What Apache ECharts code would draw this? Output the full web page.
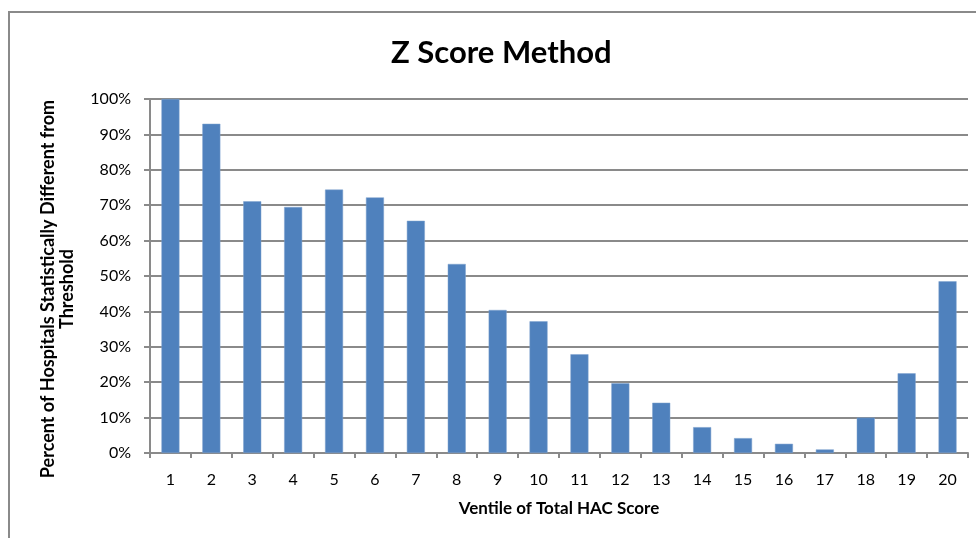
<!DOCTYPE html>
<html>
<head>
<meta charset="utf-8">
<script src="https://cdn.jsdelivr.net/npm/echarts@6/dist/echarts.min.js"></script>
<style>
  html, body { margin: 0; padding: 0; background: #fff; }
  #chart { width: 976px; height: 538px; }
</style>
</head>
<body>
<div id="chart"></div>
<script>
const ventiles = ['1', '2', '3', '4', '5', '6', '7', '8', '9', '10',
  '11', '12', '13', '14', '15', '16', '17', '18', '19', '20']
const percentDifferent = [100, 93, 71.1, 69.5, 74.4, 72.2, 65.6, 53.4, 40.4, 37.2,
  27.9, 19.7, 14.2, 7.3, 4.2, 2.6, 1.0, 10.0, 22.5, 48.5]

const font = 'Lato, "Open Sans", sans-serif'
const chart = echarts.init(document.getElementById('chart'))

chart.setOption({
  backgroundColor: '#fff',
  animation: false,
  title: {
    text: 'Z Score Method',
    left: 386,
    top: 32,
    textStyle: { fontFamily: font, fontSize: 31, fontWeight: 'bold', color: '#000' },
  },
  graphic: [{
    type: 'rect',
    shape: { x: 9, y: 12, width: 1000, height: 1000 },
    style: { fill: 'none', stroke: '#8a8a8a', lineWidth: 2 },
  }],
  grid: { left: 150, right: 8, top: 99, bottom: 85 },
  xAxis: {
    type: 'category',
    data: ventiles,
    name: 'Ventile of Total HAC Score',
    nameLocation: 'middle',
    nameGap: 47,
    nameTextStyle: { fontFamily: font, fontSize: 17, fontWeight: 'bold', color: '#000' },
    axisLine: { lineStyle: { color: '#8a8a8a', width: 2 } },
    axisTick: { show: true, length: 5, lineStyle: { color: '#8a8a8a', width: 2 } },
    axisLabel: { fontFamily: font, fontSize: 16, color: '#000', margin: 19 },
  },
  yAxis: {
    type: 'value',
    min: 0,
    max: 100,
    interval: 10,
    name: 'Percent of Hospitals Statistically Different from\nThreshold',
    nameLocation: 'middle',
    nameGap: 73,
    nameTextStyle: {
      fontFamily: font, fontSize: 18, fontWeight: 'bold', color: '#000',
      lineHeight: 19, padding: [0, 26, 0, 0],
    },
    axisLine: { show: true, lineStyle: { color: '#8a8a8a', width: 2 } },
    axisTick: { show: true, length: 6, lineStyle: { color: '#8a8a8a', width: 2 } },
    axisLabel: { fontFamily: font, fontSize: 16, color: '#000', margin: 19, formatter: '{value}%' },
    splitLine: { lineStyle: { color: '#8a8a8a', width: 2 } },
  },
  series: [{
    type: 'bar',
    data: percentDifferent,
    barWidth: 18,
    itemStyle: { color: '#4f81bd', borderColor: '#7fa3cf', borderWidth: 0.5 },
  }],
})
</script>
</body>
</html>
